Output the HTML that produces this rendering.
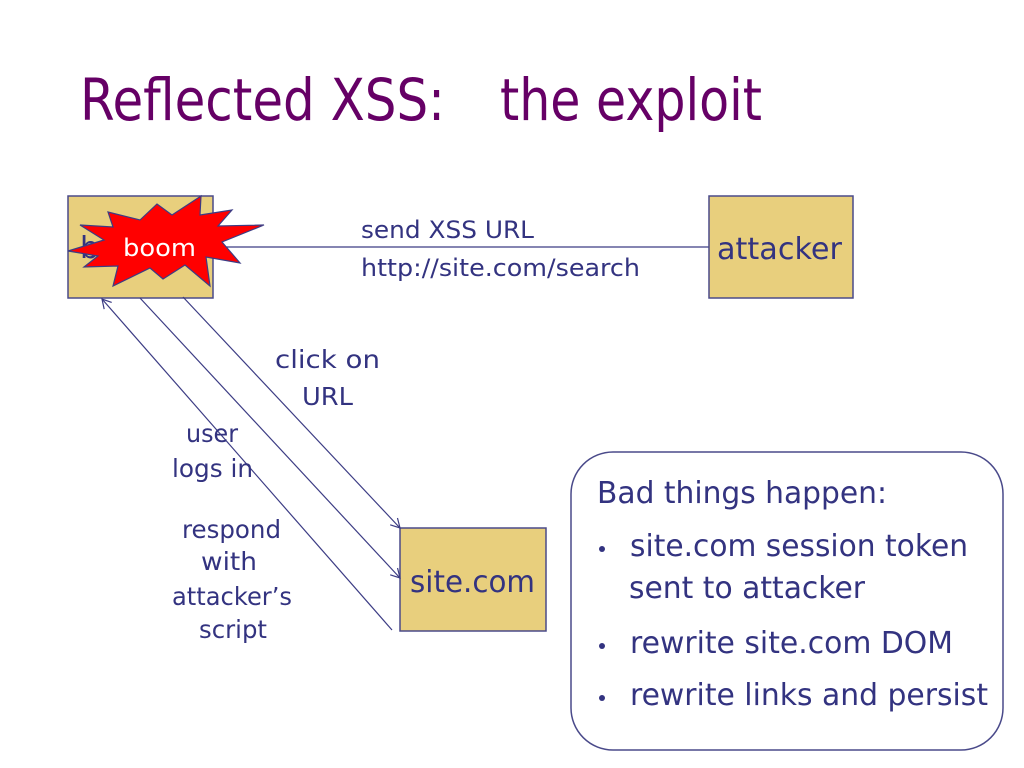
<!DOCTYPE html>
<html><head><meta charset="utf-8"><style>html,body{margin:0;padding:0;background:#fff}svg{display:block}</style></head>
<body>
<svg width="1024" height="768" viewBox="0 0 1024 768" xmlns="http://www.w3.org/2000/svg" font-family="'DejaVu Sans','Liberation Sans',sans-serif">
<defs>
<marker id="ah" markerWidth="12" markerHeight="12" refX="10" refY="6" orient="auto" markerUnits="userSpaceOnUse">
<path d="M1,1 L10,6 L1,11" fill="none" stroke="#3c3c84" stroke-width="1.2"/>
</marker>
</defs>
<text x="80" y="120" font-size="58" fill="#660066" textLength="365" lengthAdjust="spacingAndGlyphs">Reflected XSS:</text>
<text x="500" y="120" font-size="58" fill="#660066" textLength="262" lengthAdjust="spacingAndGlyphs">the exploit</text>

<line x1="213" y1="247" x2="709" y2="247" stroke="#3c3c84" stroke-width="1.3"/>
<rect x="68" y="196" width="145" height="102" fill="#e8cf7d" stroke="#4a4a8a" stroke-width="1.5"/>
<rect x="709" y="196" width="144" height="102" fill="#e8cf7d" stroke="#4a4a8a" stroke-width="1.5"/>
<rect x="400" y="528" width="146" height="103" fill="#e8cf7d" stroke="#4a4a8a" stroke-width="1.5"/>

<text x="80" y="258" font-size="30" fill="#333380">b</text>
<polygon points="68,251 104,240 80,225 113,227 108,212 140,220 157,204 172,215 201,196 200,215 232,210 218,226 264,225 222,242 240,263 206,257 210,286 185,265 163,279 150,268 113,286 118,266 84,267 98,256" fill="#f00" stroke="#3c3c84" stroke-width="1.2"/>
<text x="123" y="256" font-size="24" fill="#fff" textLength="73" lengthAdjust="spacingAndGlyphs">boom</text>

<text x="717" y="259" font-size="30" fill="#333380" textLength="125" lengthAdjust="spacingAndGlyphs">attacker</text>
<text x="410" y="592" font-size="30" fill="#333380" textLength="125" lengthAdjust="spacingAndGlyphs">site.com</text>

<text x="361" y="238" font-size="24" fill="#333380" textLength="173" lengthAdjust="spacingAndGlyphs">send XSS URL</text>
<text x="361" y="276" font-size="24" fill="#333380" textLength="279" lengthAdjust="spacingAndGlyphs">http://site.com/search</text>

<line x1="392" y1="630" x2="102" y2="299" stroke="#3c3c84" stroke-width="1.2" marker-end="url(#ah)"/>
<line x1="140" y1="298" x2="400" y2="578" stroke="#3c3c84" stroke-width="1.2" marker-end="url(#ah)"/>
<line x1="183" y1="297" x2="400" y2="528" stroke="#3c3c84" stroke-width="1.2" marker-end="url(#ah)"/>

<g font-size="25" fill="#333380" lengthAdjust="spacingAndGlyphs">
<text x="275" y="368" textLength="105" lengthAdjust="spacingAndGlyphs">click on</text>
<text x="302" y="405" textLength="51" lengthAdjust="spacingAndGlyphs">URL</text>
<text x="186" y="442" textLength="52" lengthAdjust="spacingAndGlyphs">user</text>
<text x="172" y="477" textLength="81" lengthAdjust="spacingAndGlyphs">logs in</text>
<text x="182" y="538" textLength="99" lengthAdjust="spacingAndGlyphs">respond</text>
<text x="201" y="570" textLength="56" lengthAdjust="spacingAndGlyphs">with</text>
<text x="172" y="605" textLength="120" lengthAdjust="spacingAndGlyphs">attacker’s</text>
<text x="199" y="638" textLength="68" lengthAdjust="spacingAndGlyphs">script</text>
</g>

<rect x="571" y="452" width="432" height="298" rx="42" fill="#fff" stroke="#4a4a8a" stroke-width="1.5"/>
<g font-size="30" fill="#333380">
<text x="597" y="503" textLength="290" lengthAdjust="spacingAndGlyphs">Bad things happen:</text>
<circle cx="602" cy="549" r="3"/>
<text x="630" y="556" textLength="338" lengthAdjust="spacingAndGlyphs">site.com session token</text>
<text x="629" y="598" textLength="236" lengthAdjust="spacingAndGlyphs">sent to attacker</text>
<circle cx="602" cy="646" r="3"/>
<text x="630" y="653" textLength="323" lengthAdjust="spacingAndGlyphs">rewrite site.com DOM</text>
<circle cx="602" cy="698" r="3"/>
<text x="630" y="705" textLength="358" lengthAdjust="spacingAndGlyphs">rewrite links and persist</text>
</g>
</svg>
</body></html>
